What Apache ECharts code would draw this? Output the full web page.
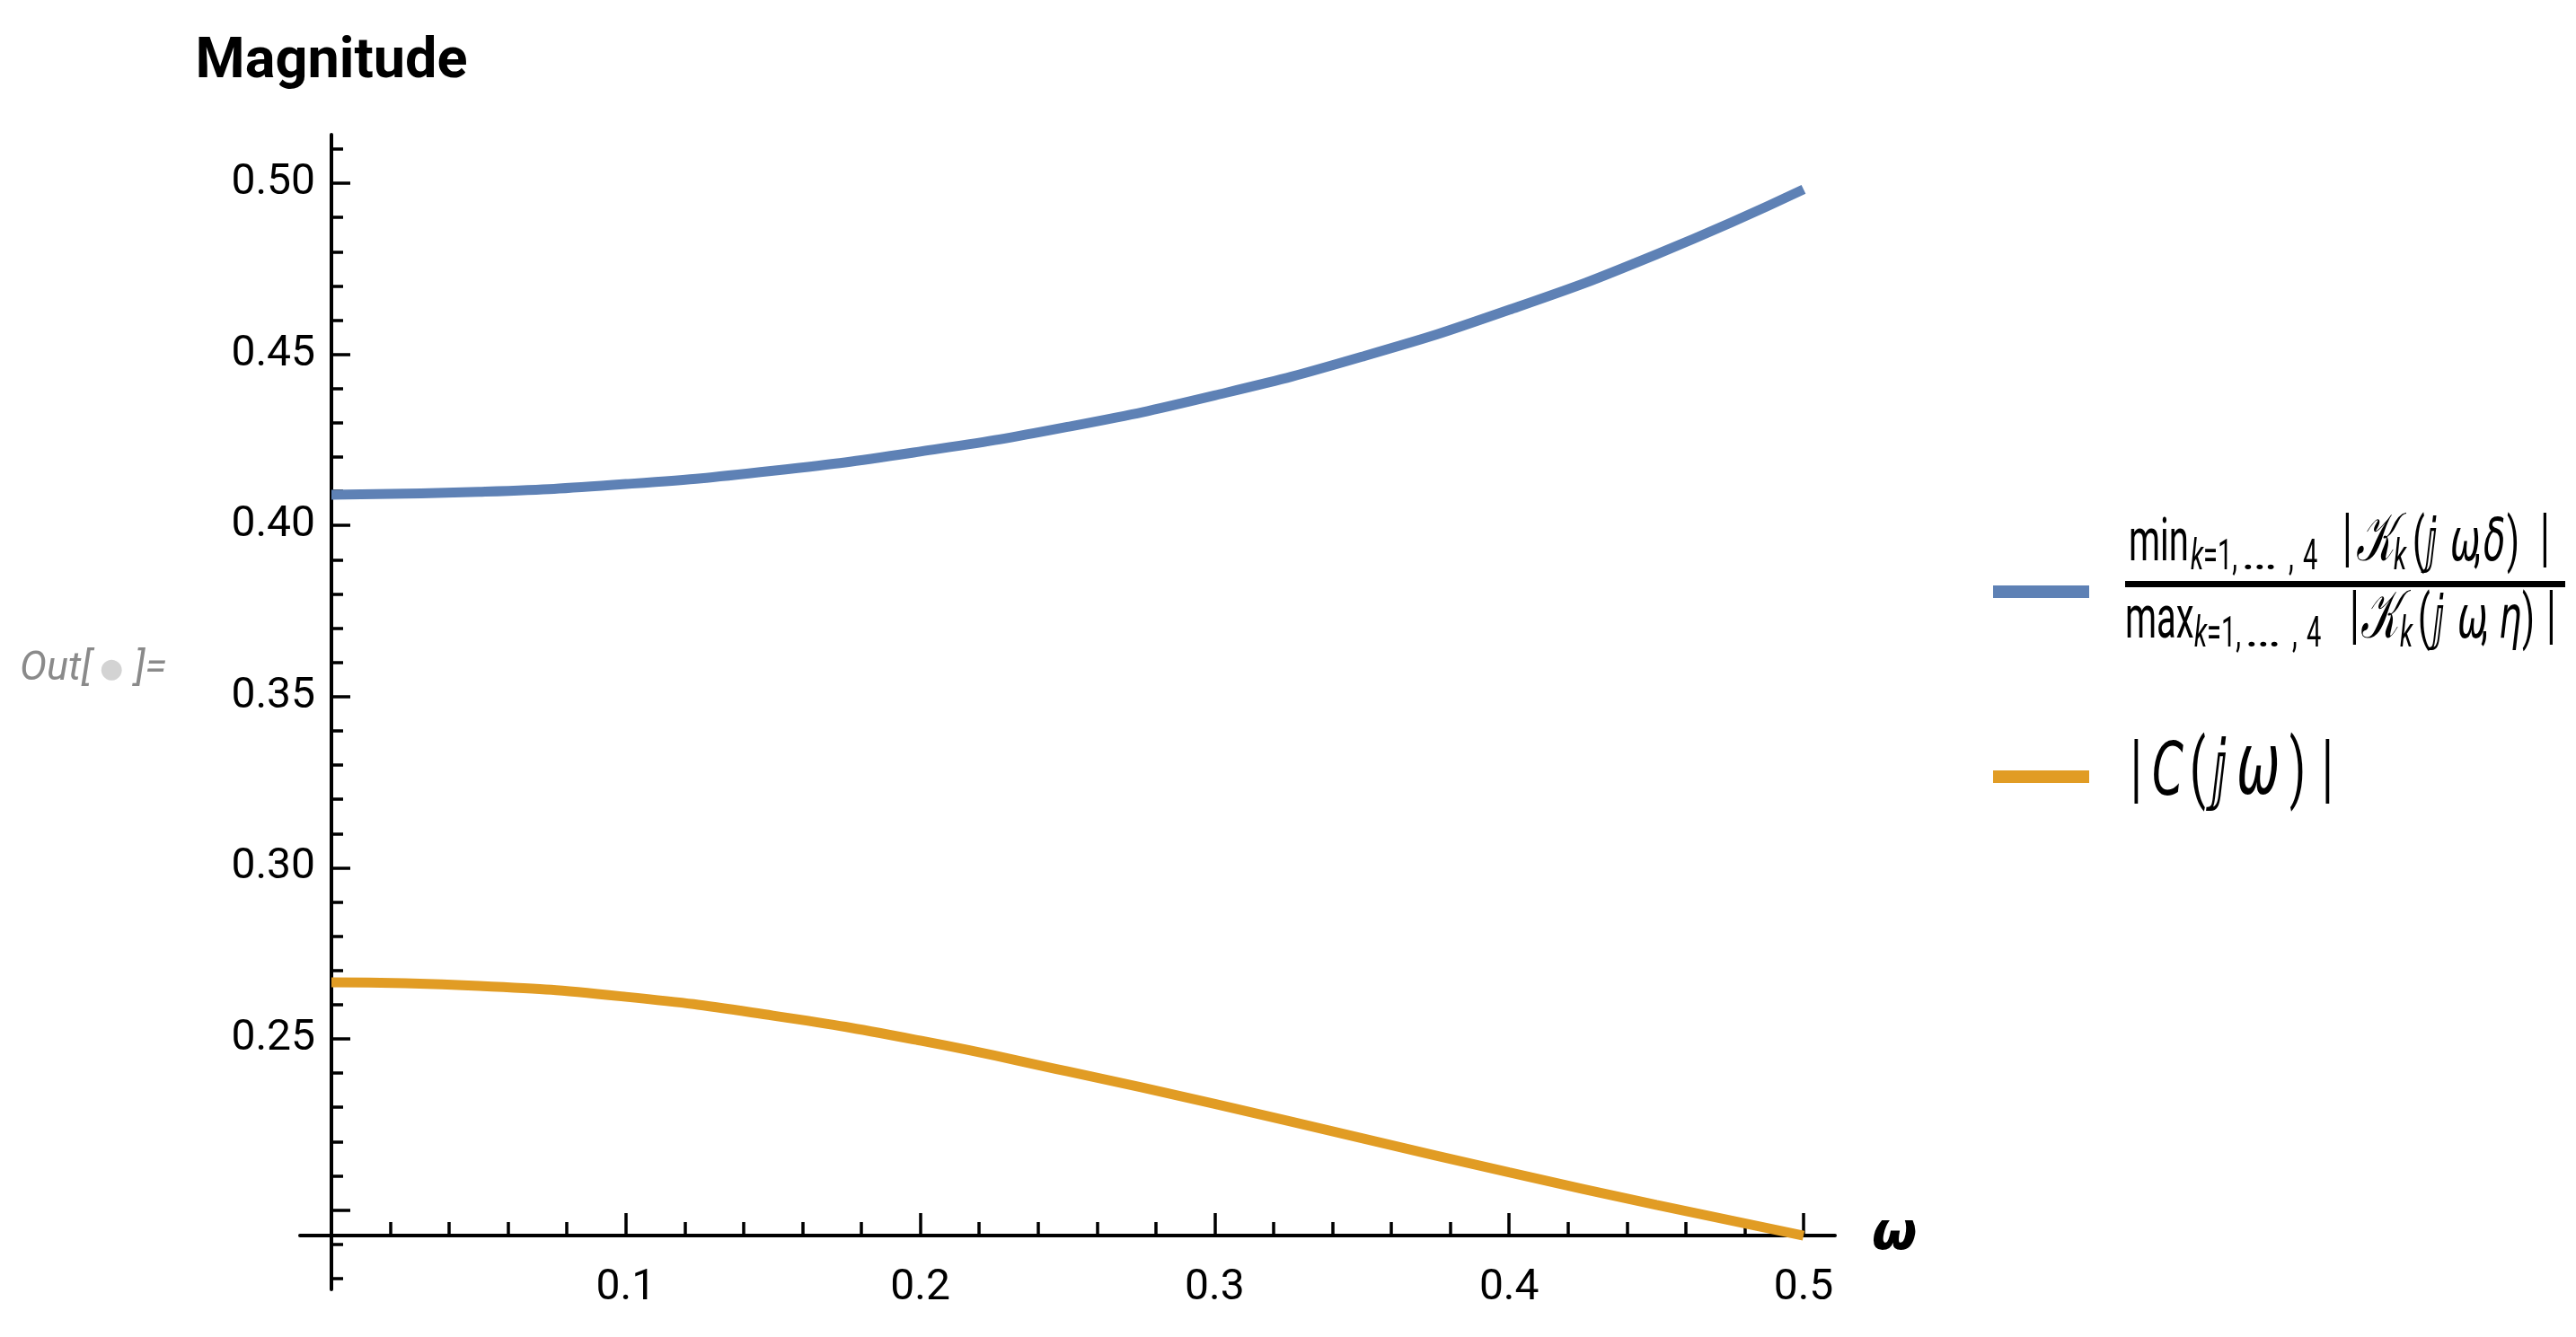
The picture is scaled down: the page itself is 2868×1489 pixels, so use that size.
<!DOCTYPE html>
<html>
<head>
<meta charset="utf-8">
<script src="https://cdn.jsdelivr.net/npm/echarts@6/dist/echarts.min.js"></script>
<style>
html,body{margin:0;padding:0;background:#ffffff;}
#chart{width:2868px;height:1489px;}
</style>
</head>
<body>
<div id="chart"></div>
<script>
// ---------- data ----------
const omega       = [0, 0.05, 0.1, 0.15, 0.2, 0.25, 0.3, 0.35, 0.4, 0.45, 0.5];
const ratioBound  = [0.4090, 0.4098, 0.4121, 0.4160, 0.4216, 0.4288, 0.4380, 0.4493, 0.4630, 0.4792, 0.4982];
const cMagnitude  = [0.2665, 0.2655, 0.2623, 0.2568, 0.2495, 0.2405, 0.2310, 0.2210, 0.2110, 0.2015, 0.1925];

const xMajorTicks = [0.1, 0.2, 0.3, 0.4, 0.5];
const xMinorTicks = [0.02, 0.04, 0.06, 0.08, 0.12, 0.14, 0.16, 0.18, 0.22, 0.24, 0.26, 0.28,
                     0.32, 0.34, 0.36, 0.38, 0.42, 0.44, 0.46, 0.48];
const yMajorTicks = [0.20, 0.25, 0.30, 0.35, 0.40, 0.45, 0.50];
const yLabelTicks = [0.25, 0.30, 0.35, 0.40, 0.45, 0.50];
const yMinorTicks = [0.18, 0.19, 0.21, 0.22, 0.23, 0.24, 0.26, 0.27, 0.28, 0.29, 0.31, 0.32, 0.33, 0.34,
                     0.36, 0.37, 0.38, 0.39, 0.41, 0.42, 0.43, 0.44, 0.46, 0.47, 0.48, 0.49, 0.51];

const xRange = [-0.01068, 0.51068];
const yRange = [0.17681, 0.51417];
const xCross = 0.1925;   // where the ω axis crosses the magnitude axis

const seriesNames = [
  'min_{k=1,…,4} |𝒦_k(ⅉω,δ)| / max_{k=1,…,4} |𝒦_k(ⅉω,η)|',
  '|C(ⅉω)|'
];
const colors = ['#5E81B5', '#E19C24'];

// ---------- layout ----------
const gridBox = {left: 334, right: 825, top: 150, bottom: 53};
const yPxPerUnit = (1489 - gridBox.top - gridBox.bottom) / (yRange[1] - yRange[0]);
const xAxisOffset = -Math.round((xCross - yRange[0]) * yPxPerUnit);

const FONT = 'Roboto, "Open Sans", "DejaVu Sans", sans-serif';
const MATH = '"DejaVu Sans", Roboto, sans-serif';
const S = 1.65; // vertical stretch of the legend typesetting

function glyph(text, x, base, size, opt) {
  opt = opt || {};
  return {
    type: 'text', x: x, y: base - 0.3 * size * S, scaleY: S, scaleX: opt.sx || 1, silent: true,
    style: {
      text: text, fontSize: size,
      fontFamily: opt.family || FONT,
      fontStyle: opt.italic ? 'italic' : 'normal',
      fontWeight: opt.bold ? 'bold' : 'normal',
      fill: opt.fill || '#000',
      align: 'left', verticalAlign: 'middle',
      textAlign: 'left', textVerticalAlign: 'middle'
    }
  };
}

function fractionRow(word, x0, base, xs) {
  const F = 40, Fs = 29, sb = base + 9;
  const d = xs[0];
  return [
    glyph(word, x0, base, F),
    glyph('k', d, sb, Fs, {italic: true}),
    glyph('=1,', d + 14, sb, Fs),
    glyph('…', d + 56, sb, Fs, {sx: 2.1}),
    glyph(',', d + 109, sb, Fs),
    glyph('4', d + 125, sb, Fs),
    glyph('|', xs[1], base, 44),
    glyph('𝒦', xs[2], base, 46, {family: MATH, italic: true}),
    glyph('k', xs[3], sb, Fs, {italic: true}),
    glyph('(', xs[4], base, F),
    glyph('ⅉ', xs[5], base, F, {family: MATH}),
    glyph('ω', xs[6], base, F, {family: MATH, italic: true}),
    glyph(',', xs[7], base, F),
    glyph(xs.greek, xs[8], base, F, {family: MATH, italic: true}),
    glyph(')', xs[9], base, F),
    glyph('|', xs[10], base, 44)
  ];
}
const numX = [2439, 2608, 2623, 2665, 2686, 2700, 2728, 2754, 2765, 2791, 2828]; numX.greek = 'δ';
const denX = [2443, 2616, 2628, 2672, 2692, 2708, 2736, 2762, 2782, 2808, 2835]; denX.greek = 'η';

const legendGraphics = [].concat(
  fractionRow('min', 2370, 627, numX),
  [{type: 'rect', silent: true, shape: {x: 2366, y: 647, width: 490, height: 7}, style: {fill: '#000'}}],
  fractionRow('max', 2366, 713, denX),
  [
    glyph('|', 2372, 888, 52),
    glyph('C', 2396, 888, 50, {family: MATH, italic: true}),
    glyph('(', 2438, 888, 52),
    glyph('ⅉ', 2462, 888, 52, {family: MATH}),
    glyph('ω', 2490, 888, 58, {family: MATH, italic: true}),
    glyph(')', 2549, 888, 52),
    glyph('|', 2585, 888, 52)
  ]
);

function plain(text, x, base, size, fill, italic) {
  return {
    type: 'text', x: x, y: base - 0.3 * size, silent: true,
    style: {text: text, fontSize: size, fontFamily: FONT, fontStyle: italic ? 'italic' : 'normal',
            fill: fill, align: 'left', verticalAlign: 'middle', textAlign: 'left', textVerticalAlign: 'middle'}
  };
}
const outLabel = [
  plain('Out[', 22, 759, 45, '#8a8a8a', true),
  plain('●', 111, 755, 30, '#d3d3d3', false),
  plain(']=', 150, 759, 45, '#8a8a8a', true)
];

const axisLineStyle = {color: '#000', width: 4};
const tickStyle = {color: '#000', width: 3.5};

const chart = echarts.init(document.getElementById('chart'), null, {renderer: 'canvas'});
chart.setOption({
  backgroundColor: '#ffffff',
  animation: false,
  grid: Object.assign({containLabel: false, outerBoundsMode: 'none'}, gridBox),
  xAxis: [
    {
      type: 'value', min: xRange[0], max: xRange[1], position: 'bottom', offset: xAxisOffset,
      name: 'ω', nameLocation: 'end', nameGap: 41,
      nameTextStyle: {fontFamily: MATH, fontStyle: 'italic', fontWeight: 'bold', fontSize: 58, color: '#000',
                      align: 'left', verticalAlign: 'middle', padding: [10, 0, 0, 0]},
      axisLine: {show: true, onZero: false, lineStyle: axisLineStyle},
      axisTick: {show: true, inside: true, length: 25, lineStyle: tickStyle, customValues: xMajorTicks},
      axisLabel: {show: true, margin: 35, fontSize: 48, fontFamily: FONT, color: '#000',
                  customValues: xMajorTicks, formatter: v => v.toFixed(1)},
      splitLine: {show: false}
    },
    {
      type: 'value', min: xRange[0], max: xRange[1], position: 'bottom', offset: xAxisOffset,
      axisLine: {show: false, onZero: false},
      axisTick: {show: true, inside: true, length: 15, lineStyle: tickStyle, customValues: xMinorTicks},
      axisLabel: {show: false},
      splitLine: {show: false}
    }
  ],
  yAxis: [
    {
      type: 'value', min: yRange[0], max: yRange[1], position: 'left',
      name: 'Magnitude', nameLocation: 'end', nameGap: 80,
      nameTextStyle: {fontFamily: FONT, fontWeight: 'bold', fontSize: 63, color: '#000',
                      align: 'center', verticalAlign: 'middle'},
      axisLine: {show: true, onZero: true, lineStyle: axisLineStyle},
      axisTick: {show: true, inside: true, length: 21, lineStyle: tickStyle, customValues: yMajorTicks},
      axisLabel: {show: true, margin: -17, fontSize: 48, fontFamily: FONT, color: '#000',
                  padding: [16, 0, 0, 0],
                  customValues: yLabelTicks, formatter: v => v.toFixed(2)},
      splitLine: {show: false}
    },
    {
      type: 'value', min: yRange[0], max: yRange[1], position: 'left',
      axisLine: {show: false, onZero: true},
      axisTick: {show: true, inside: true, length: 13, lineStyle: tickStyle, customValues: yMinorTicks},
      axisLabel: {show: false},
      splitLine: {show: false}
    }
  ],
  legend: {
    show: true, orient: 'vertical', left: 2214, top: 647,
    itemWidth: 107, itemHeight: 14, itemGap: 192, icon: 'rect', selectedMode: false,
    formatter: () => '', textStyle: {fontSize: 12, lineHeight: 14},
    data: seriesNames
  },
  series: [
    {
      name: seriesNames[0], type: 'line', xAxisIndex: 0, yAxisIndex: 0,
      data: omega.map((w, i) => [w, ratioBound[i]]),
      smooth: true, showSymbol: false, symbol: 'none', clip: false,
      lineStyle: {color: colors[0], width: 11}, itemStyle: {color: colors[0]}
    },
    {
      name: seriesNames[1], type: 'line', xAxisIndex: 0, yAxisIndex: 0,
      data: omega.map((w, i) => [w, cMagnitude[i]]),
      smooth: true, showSymbol: false, symbol: 'none', clip: false,
      lineStyle: {color: colors[1], width: 11}, itemStyle: {color: colors[1]}
    }
  ],
  graphic: {elements: legendGraphics.concat(outLabel)}
});
</script>
</body>
</html>
